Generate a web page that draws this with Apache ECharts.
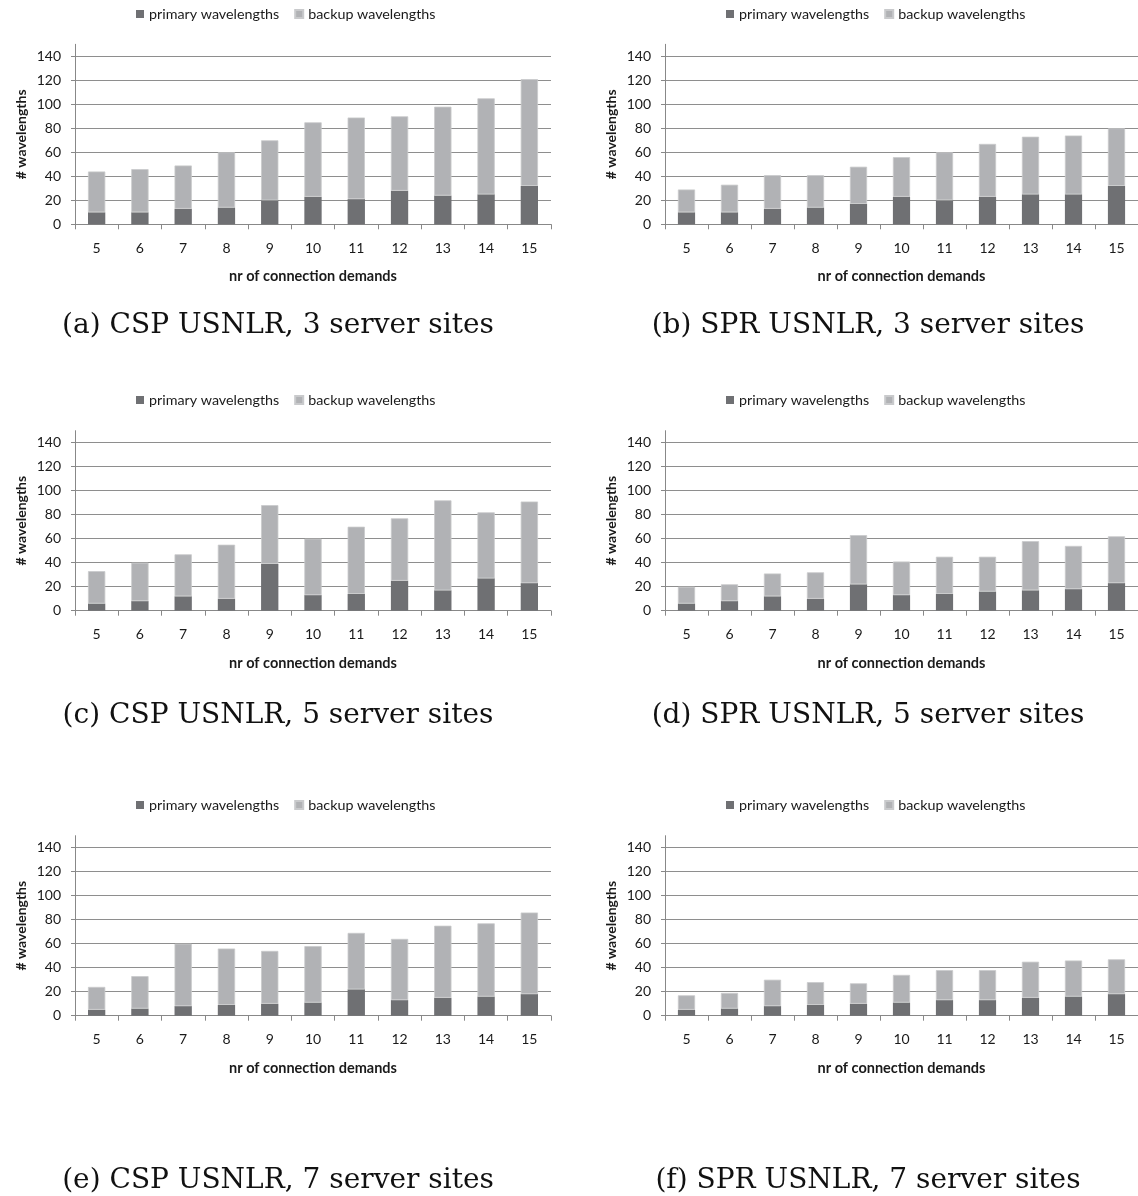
<!DOCTYPE html>
<html>
<head>
<meta charset="utf-8">
<title>Wavelength usage: CSP vs SPR on USNLR</title>
<script src="https://cdn.jsdelivr.net/npm/echarts@6/dist/echarts.min.js"></script>
<style>
  html, body { margin: 0; padding: 0; background: #ffffff; }
  #chart { width: 1138px; height: 1196px; }
</style>
</head>
<body>
<div id="chart"></div>
<script>
// Number of connection demands (x categories)
const demands = ['5', '6', '7', '8', '9', '10', '11', '12', '13', '14', '15'];
const yTicks = [0, 20, 40, 60, 80, 100, 120, 140];

// (a) CSP, 3 server sites
const cspPrimary3 = [10, 10, 13, 14, 20, 23, 21, 28, 24, 25, 32];
const cspBackup3  = [34, 36, 36, 46, 50, 62, 68, 62, 74, 80, 89];
// (b) SPR, 3 server sites
const sprPrimary3 = [10, 10, 13, 14, 17, 23, 20, 23, 25, 25, 32];
const sprBackup3  = [19, 23, 28, 27, 31, 33, 40, 44, 48, 49, 48];
// (c) CSP, 5 server sites
const cspPrimary5 = [6, 8, 12, 10, 39, 13, 14, 25, 17, 27, 23];
const cspBackup5  = [27, 32, 35, 45, 49, 47, 56, 52, 75, 55, 68];
// (d) SPR, 5 server sites
const sprPrimary5 = [6, 8, 12, 10, 22, 13, 14, 16, 17, 18, 23];
const sprBackup5  = [14, 14, 19, 22, 41, 28, 31, 29, 41, 36, 39];
// (e) CSP, 7 server sites
const cspPrimary7 = [5, 6, 8, 9, 10, 11, 22, 13, 15, 16, 18];
const cspBackup7  = [19, 27, 52, 47, 44, 47, 47, 51, 60, 61, 68];
// (f) SPR, 7 server sites
const sprPrimary7 = [5, 6, 8, 9, 10, 11, 13, 13, 15, 16, 18];
const sprBackup7  = [12, 13, 22, 19, 17, 23, 25, 25, 30, 30, 29];

const seriesNames = ['primary wavelengths', 'backup wavelengths'];
const captions = [
  '(a) CSP USNLR, 3 server sites', '(b) SPR USNLR, 3 server sites',
  '(c) CSP USNLR, 5 server sites', '(d) SPR USNLR, 5 server sites',
  '(e) CSP USNLR, 7 server sites', '(f) SPR USNLR, 7 server sites'
];
const panelData = [
  [cspPrimary3, cspBackup3], [sprPrimary3, sprBackup3],
  [cspPrimary5, cspBackup5], [sprPrimary5, sprBackup5],
  [cspPrimary7, cspBackup7], [sprPrimary7, sprBackup7]
];

// Layout of the 3x2 panel grid
const colLeft = [75, 665];
const plotWidth = 476;
const rowZero = [224.3, 610.7, 1015.7];
const plotHeight = 180;
const legendTop = [2, 388, 793];
const legendLeft = [131, 721];
const captionX = [278, 868];
const captionY = [326, 716, 1181];

const PRIMARY = '#6f7073';
const BACKUP = '#b1b2b5';
const AXIS = '#888888';
const GRIDLINE = '#8e8e8e';
const TEXT = '#1a1a1a';
const SANS = 'Lato, "Open Sans", sans-serif';

const grids = [], xAxes = [], yAxes = [], series = [], legends = [], texts = [];

panelData.forEach((pair, i) => {
  const col = i % 2, row = Math.floor(i / 2);
  grids.push({
    left: colLeft[col], width: plotWidth,
    top: rowZero[row] - plotHeight, height: plotHeight,
    containLabel: false
  });
  xAxes.push({
    type: 'category', gridIndex: i, data: demands,
    name: 'nr of connection demands', nameLocation: 'middle', nameGap: 45,
    nameTextStyle: { fontFamily: SANS, fontWeight: 'bold', fontSize: 14.5, color: TEXT },
    axisLine: { lineStyle: { color: AXIS, width: 1 } },
    axisTick: { show: true, length: 5, alignWithLabel: false, lineStyle: { color: AXIS } },
    axisLabel: { fontFamily: SANS, fontSize: 14, color: TEXT, margin: 17 },
    splitLine: { show: false }
  });
  yAxes.push({
    type: 'value', gridIndex: i, min: 0, max: 150, interval: 20,
    name: '# wavelengths', nameLocation: 'middle', nameGap: 47, nameRotate: 90,
    nameTextStyle: { fontFamily: SANS, fontWeight: 'bold', fontSize: 14, color: TEXT },
    axisLine: { show: true, lineStyle: { color: AXIS, width: 1 } },
    axisTick: { show: true, length: 4, lineStyle: { color: AXIS } },
    axisLabel: {
      fontFamily: SANS, fontSize: 14, color: TEXT, margin: 14,
      showMaxLabel: false,
      formatter: v => (yTicks.indexOf(v) >= 0 ? String(v) : '')
    },
    splitLine: { show: true, showMaxLine: false, lineStyle: { color: GRIDLINE, width: 1 } }
  });
  series.push({
    name: seriesNames[0], type: 'bar', stack: 'panel' + i,
    xAxisIndex: i, yAxisIndex: i, data: pair[0], barWidth: '40%',
    itemStyle: { color: PRIMARY }
  });
  series.push({
    name: seriesNames[1], type: 'bar', stack: 'panel' + i,
    xAxisIndex: i, yAxisIndex: i, data: pair[1], barWidth: '40%',
    itemStyle: { color: BACKUP, borderColor: '#c9cacc', borderWidth: 0.8 }
  });
  legends.push({
    data: seriesNames, top: legendTop[row], left: legendLeft[col],
    orient: 'horizontal', icon: 'rect', itemWidth: 8, itemHeight: 8, itemGap: 15,
    selectedMode: false,
    textStyle: { fontFamily: SANS, fontSize: 14.3, color: TEXT }
  });
  texts.push({
    type: 'text', x: captionX[col], y: captionY[row],
    style: {
      text: captions[i], fill: '#111111',
      font: '28px "DejaVu Serif", "Liberation Serif", serif',
      textAlign: 'center', textVerticalAlign: 'middle'
    }
  });
});

const chart = echarts.init(document.getElementById('chart'), null, { renderer: 'canvas' });
chart.setOption({
  animation: false,
  backgroundColor: '#ffffff',
  grid: grids,
  xAxis: xAxes,
  yAxis: yAxes,
  legend: legends,
  series: series,
  graphic: texts
});
</script>
</body>
</html>
